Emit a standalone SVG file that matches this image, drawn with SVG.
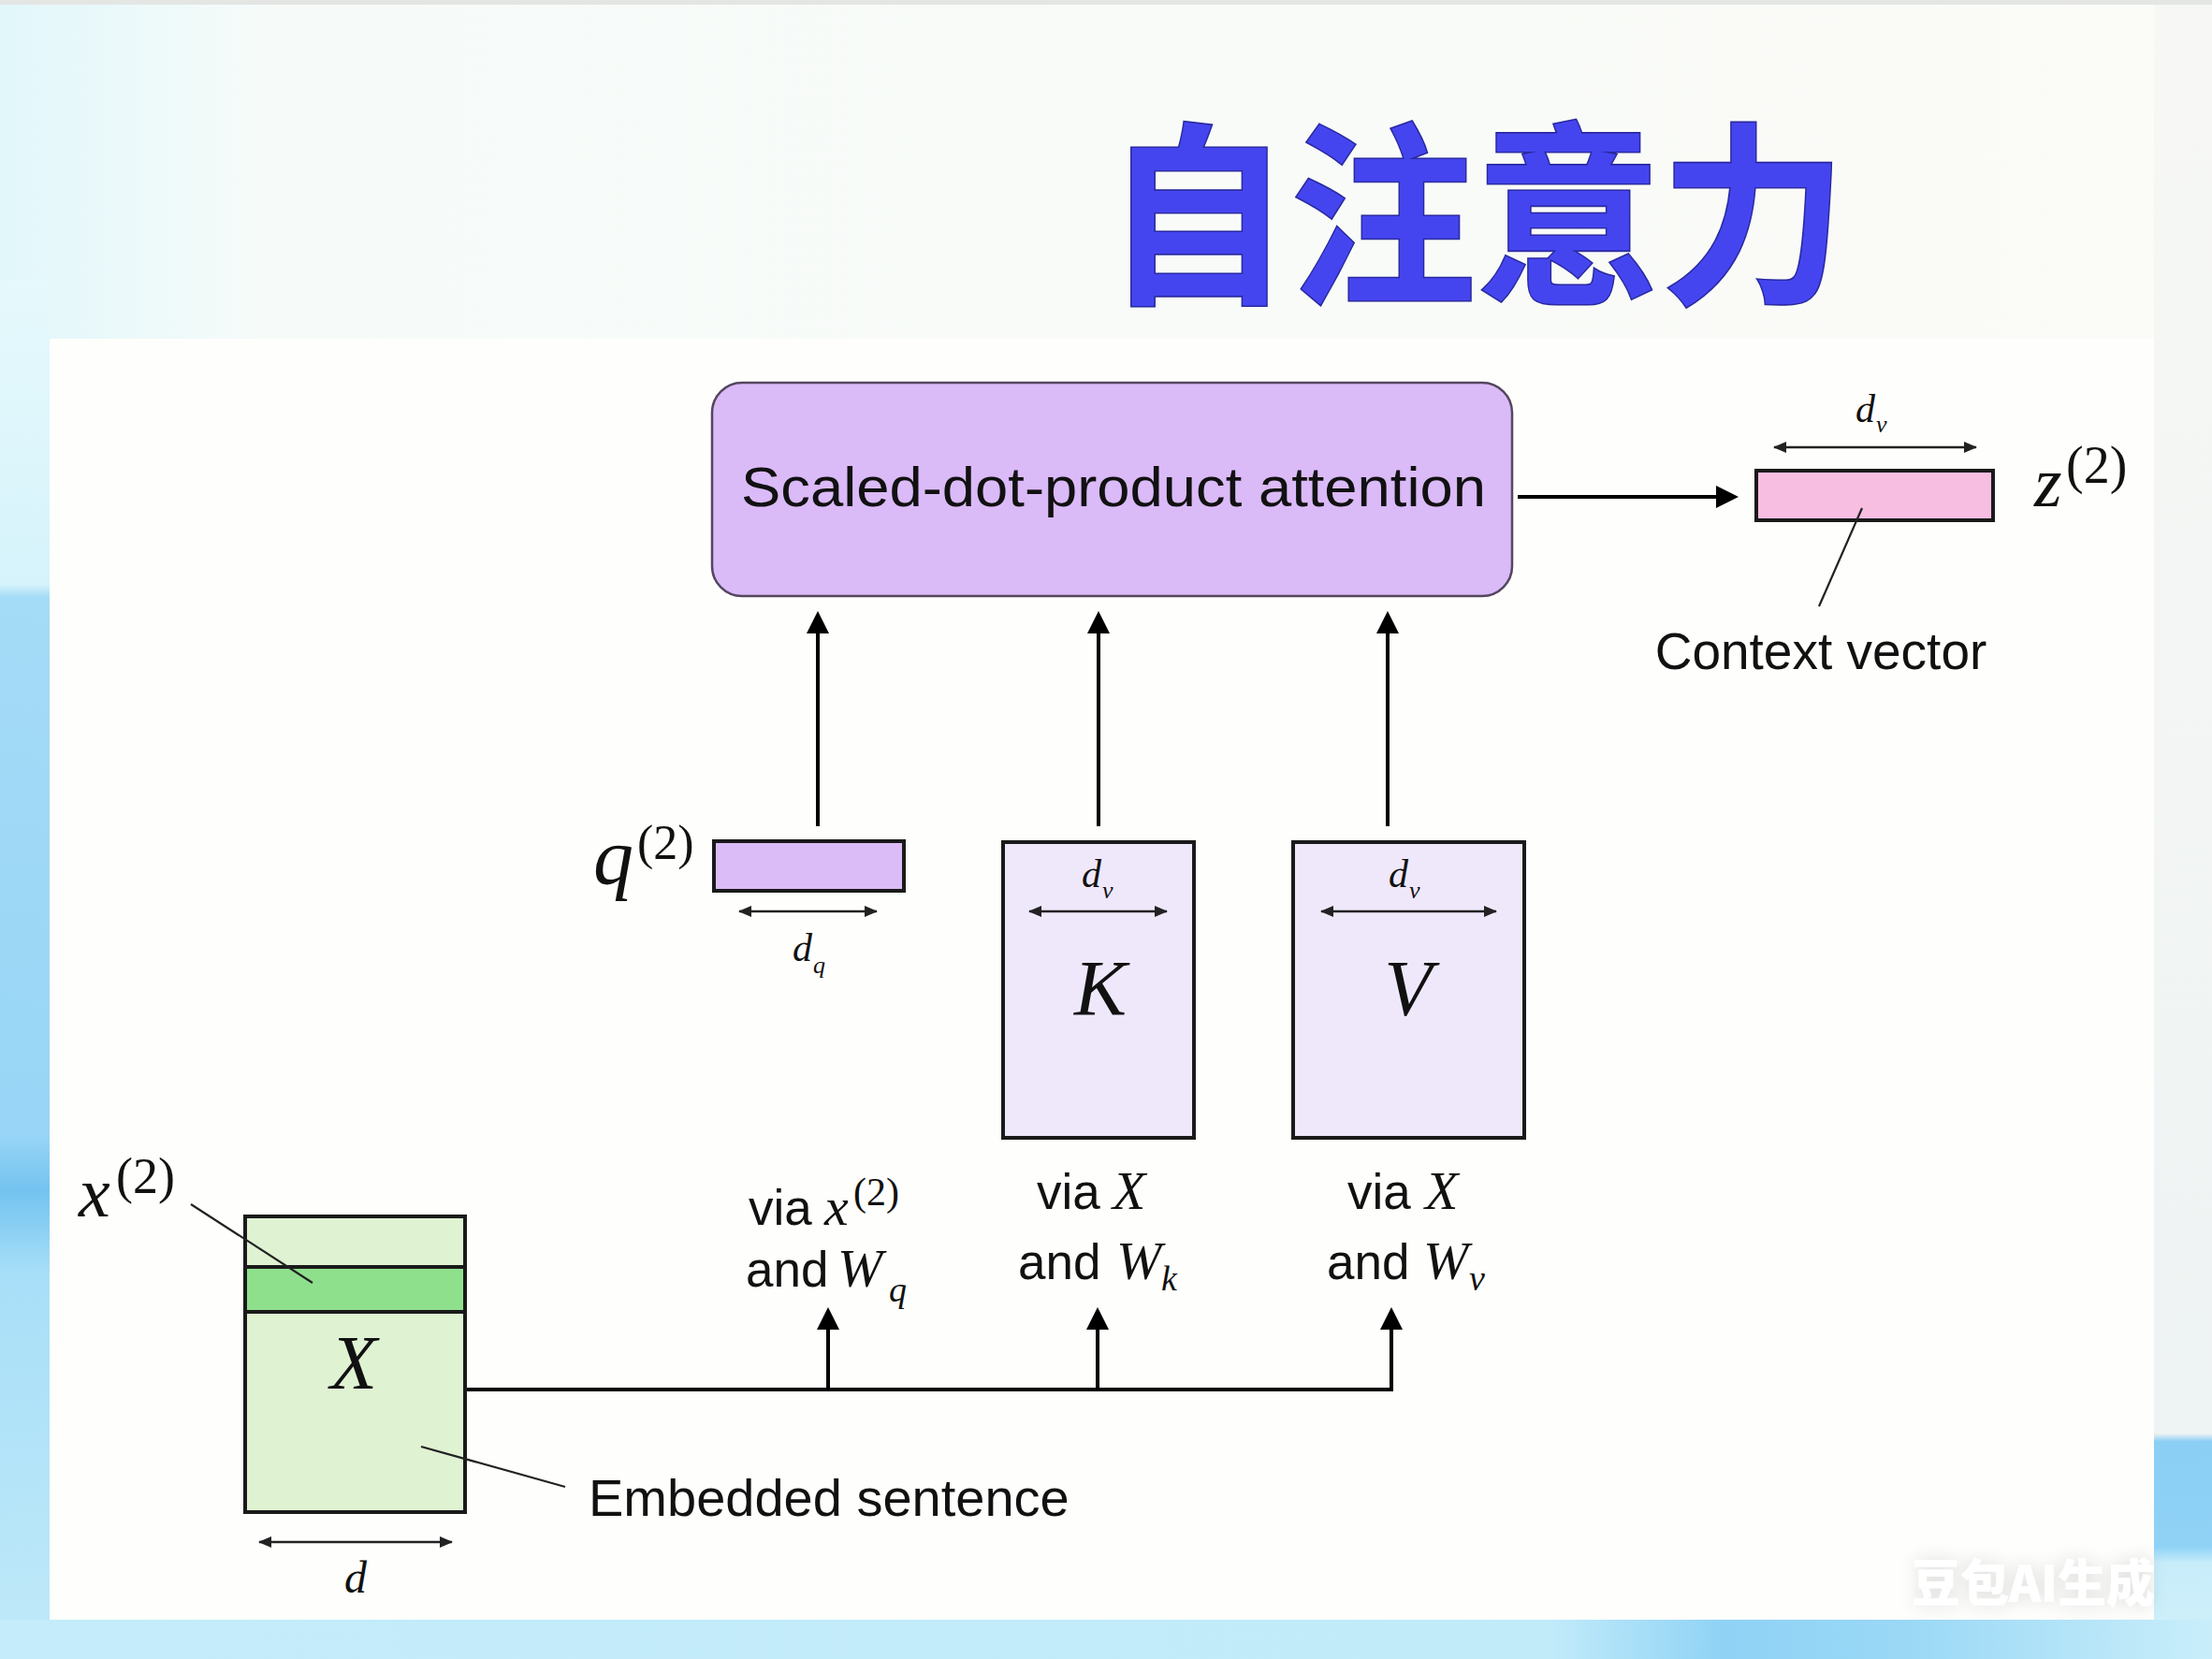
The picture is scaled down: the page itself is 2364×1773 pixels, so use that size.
<svg xmlns="http://www.w3.org/2000/svg" width="2364" height="1773" viewBox="0 0 2364 1773">
  <defs>
    <style>
      .sans { font-family: "Liberation Sans", Arial, sans-serif; fill: #111; }
      .mi { font-family: "Liberation Serif", "Times New Roman", serif; font-style: italic; fill: #111; }
      .mr { font-family: "Liberation Serif", "Times New Roman", serif; fill: #111; }
      .box { stroke: #1a1a1a; stroke-width: 4; }
      .conn { stroke: #000; stroke-width: 4; fill: none; }
      .dim { stroke: #222; stroke-width: 2.5; fill: none; }
      .lead { stroke: #222; stroke-width: 2.2; fill: none; }
    </style>
    <linearGradient id="leftStrip" x1="0" y1="0" x2="0" y2="1">
      <stop offset="0" stop-color="#e6f9fc"/>
      <stop offset="0.22" stop-color="#d6f3fb"/>
      <stop offset="0.23" stop-color="#a4dbf7"/>
      <stop offset="0.62" stop-color="#98d5f6"/>
      <stop offset="0.66" stop-color="#73c3f0"/>
      <stop offset="0.72" stop-color="#a8dff8"/>
      <stop offset="1" stop-color="#bfe9f9"/>
    </linearGradient>
    <linearGradient id="bottomBand" x1="0" y1="0" x2="1" y2="0">
      <stop offset="0" stop-color="#c4ecfa"/>
      <stop offset="0.7" stop-color="#c2ebfa"/>
      <stop offset="0.78" stop-color="#8fd2f5"/>
      <stop offset="0.86" stop-color="#9ad8f6"/>
      <stop offset="1" stop-color="#c9eefa"/>
    </linearGradient>
    <linearGradient id="topTint" x1="0" y1="0" x2="1" y2="0">
      <stop offset="0" stop-color="#e2f7fb"/>
      <stop offset="0.12" stop-color="#f6fbf9"/>
      <stop offset="1" stop-color="#fbfbf7"/>
    </linearGradient>
    <linearGradient id="rightStrip" x1="0" y1="0" x2="0" y2="1">
      <stop offset="0" stop-color="#f7f8f5"/>
      <stop offset="0.885" stop-color="#eef3f3"/>
      <stop offset="0.89" stop-color="#8ccff5"/>
      <stop offset="0.955" stop-color="#8fd2f6"/>
      <stop offset="0.965" stop-color="#c8edfa"/>
      <stop offset="1" stop-color="#cdeffa"/>
    </linearGradient>
    <filter id="wmShadow" x="-20%" y="-40%" width="140%" height="180%">
      <feGaussianBlur in="SourceAlpha" stdDeviation="10"/>
      <feComponentTransfer><feFuncA type="linear" slope="0.14"/></feComponentTransfer>
      <feMerge><feMergeNode/><feMergeNode in="SourceGraphic"/></feMerge>
    </filter>
    <marker id="head" viewBox="0 0 24 24" refX="0" refY="12" markerWidth="24" markerHeight="24" markerUnits="userSpaceOnUse" orient="auto">
      <path d="M0,0 L24,12 L0,24 z" fill="#000"/>
    </marker>
    <marker id="dimhead" viewBox="0 0 14 12" refX="13" refY="6" markerWidth="14" markerHeight="12" markerUnits="userSpaceOnUse" orient="auto-start-reverse">
      <path d="M0,0 L14,6 L0,12 z" fill="#222"/>
    </marker>
  </defs>

  <!-- background -->
  <rect x="0" y="0" width="2364" height="1773" fill="url(#topTint)"/>
  <rect x="0" y="300" width="53" height="1473" fill="url(#leftStrip)"/>
  <rect x="0" y="1731" width="2364" height="42" fill="url(#bottomBand)"/>
  <rect x="2302" y="0" width="62" height="1731" fill="url(#rightStrip)"/>
  <rect x="0" y="0" width="2364" height="5" fill="#e4e6e4"/>
  <rect x="53" y="362" width="2249" height="1369" fill="#fefefc"/>

  <!-- title -->
  <g id="title">
    <text x="1577" y="0" transform="translate(0,308) scale(1,1.05)" text-anchor="middle" font-family="Noto Sans CJK SC, sans-serif" font-weight="700" font-size="198" fill="#4545f0" stroke="#2a2aa0" stroke-width="3" paint-order="stroke">自注意力</text>
  </g>

  <!-- connectors -->
  <g id="connectors">
    <path class="conn" d="M1622,531 H1834" marker-end="url(#head)"/>
    <path class="conn" d="M874,883 V677" marker-end="url(#head)"/>
    <path class="conn" d="M1174,883 V677" marker-end="url(#head)"/>
    <path class="conn" d="M1483,883 V677" marker-end="url(#head)"/>
    <path class="conn" d="M497,1485 H1487 V1421" marker-end="url(#head)"/>
    <path class="conn" d="M885,1485 V1421" marker-end="url(#head)"/>
    <path class="conn" d="M1173,1485 V1421" marker-end="url(#head)"/>
  </g>

  <!-- attention block -->
  <g id="attention">
    <rect x="761" y="409" width="855" height="228" rx="32" ry="32" fill="#dbbaf8" stroke="#54465e" stroke-width="2.5"/>
    <text class="sans" x="1190" y="541" text-anchor="middle" font-size="59" textLength="796" lengthAdjust="spacingAndGlyphs">Scaled-dot-product attention</text>
  </g>

  <!-- context vector z -->
  <g id="context-vector">
    <rect class="box" x="1877" y="503" width="253" height="53" fill="#f8bee2"/>
    <path class="dim" d="M1896,478 H2112" marker-start="url(#dimhead)" marker-end="url(#dimhead)"/>
    <text class="mi" x="1983" y="451" font-size="42">d</text>
    <text class="mi" x="2005" y="462" font-size="26">v</text>
    <text class="mi" x="2174" y="541" font-size="76">z</text>
    <text class="mr" x="2208" y="516" font-size="56">(2)</text>
    <path class="lead" d="M1990,543 L1944,648"/>
    <text class="sans" x="1946" y="715" text-anchor="middle" font-size="55">Context vector</text>
  </g>

  <!-- query -->
  <g id="query">
    <rect class="box" x="763" y="899" width="203" height="53" fill="#dcbcf7"/>
    <text class="mi" x="634" y="944" font-size="86">q</text>
    <text class="mr" x="681" y="918" font-size="52">(2)</text>
    <path class="dim" d="M790,974 H937" marker-start="url(#dimhead)" marker-end="url(#dimhead)"/>
    <text class="mi" x="847" y="1027" font-size="42">d</text>
    <text class="mi" x="869" y="1040" font-size="26">q</text>
  </g>

  <!-- keys -->
  <g id="keys">
    <rect class="box" x="1072" y="900" width="204" height="316" fill="#efe8fb"/>
    <text class="mi" x="1156" y="948" font-size="42">d</text>
    <text class="mi" x="1178" y="960" font-size="26">v</text>
    <path class="dim" d="M1100,974 H1247" marker-start="url(#dimhead)" marker-end="url(#dimhead)"/>
    <text class="mi" x="1176" y="1085" text-anchor="middle" font-size="84">K</text>
  </g>

  <!-- values -->
  <g id="values">
    <rect class="box" x="1382" y="900" width="247" height="316" fill="#efe8fb"/>
    <text class="mi" x="1484" y="948" font-size="42">d</text>
    <text class="mi" x="1506" y="960" font-size="26">v</text>
    <path class="dim" d="M1412,974 H1599" marker-start="url(#dimhead)" marker-end="url(#dimhead)"/>
    <text class="mi" x="1505" y="1085" text-anchor="middle" font-size="84">V</text>
  </g>

  <!-- input X -->
  <g id="input">
    <rect class="box" x="262" y="1300" width="235" height="316" fill="#dff2d2"/>
    <rect class="box" x="262" y="1354" width="235" height="48" fill="#8fe08d"/>
    <text class="mi" x="378" y="1484" text-anchor="middle" font-size="82">X</text>
    <text class="mi" x="84" y="1300" font-size="76">x</text>
    <text class="mr" x="124" y="1275" font-size="54">(2)</text>
    <path class="lead" d="M204,1287 L334,1371"/>
    <path class="lead" d="M450,1546 L604,1589"/>
    <text class="sans" x="629" y="1620" font-size="56">Embedded sentence</text>
    <path class="dim" d="M277,1648 H483" marker-start="url(#dimhead)" marker-end="url(#dimhead)"/>
    <text class="mi" x="380" y="1702" text-anchor="middle" font-size="48">d</text>
  </g>

  <!-- projection labels -->
  <g id="label-q">
    <text class="sans" x="800" y="1309" font-size="53">via</text>
    <text class="mi" x="881" y="1309" font-size="58">x</text>
    <text class="mr" x="912" y="1288" font-size="42">(2)</text>
    <text class="sans" x="797" y="1375" font-size="53">and</text>
    <text class="mi" x="895" y="1375" font-size="58">W</text>
    <text class="mi" x="950" y="1391" font-size="38">q</text>
  </g>
  <g id="label-k">
    <text class="sans" x="1108" y="1292" font-size="53">via</text>
    <text class="mi" x="1189" y="1292" font-size="58">X</text>
    <text class="sans" x="1088" y="1367" font-size="53">and</text>
    <text class="mi" x="1193" y="1367" font-size="58">W</text>
    <text class="mi" x="1241" y="1379" font-size="38">k</text>
  </g>
  <g id="label-v">
    <text class="sans" x="1440" y="1292" font-size="53">via</text>
    <text class="mi" x="1523" y="1292" font-size="58">X</text>
    <text class="sans" x="1418" y="1367" font-size="53">and</text>
    <text class="mi" x="1521" y="1367" font-size="58">W</text>
    <text class="mi" x="1570" y="1379" font-size="38">v</text>
  </g>

  <!-- watermark -->
  <g id="watermark">
    <text x="2043" y="1712" font-family="Noto Sans CJK SC, sans-serif" font-weight="900" font-size="54" fill="#ffffff" textLength="260" lengthAdjust="spacingAndGlyphs" filter="url(#wmShadow)">豆包AI生成</text>
  </g>
</svg>
